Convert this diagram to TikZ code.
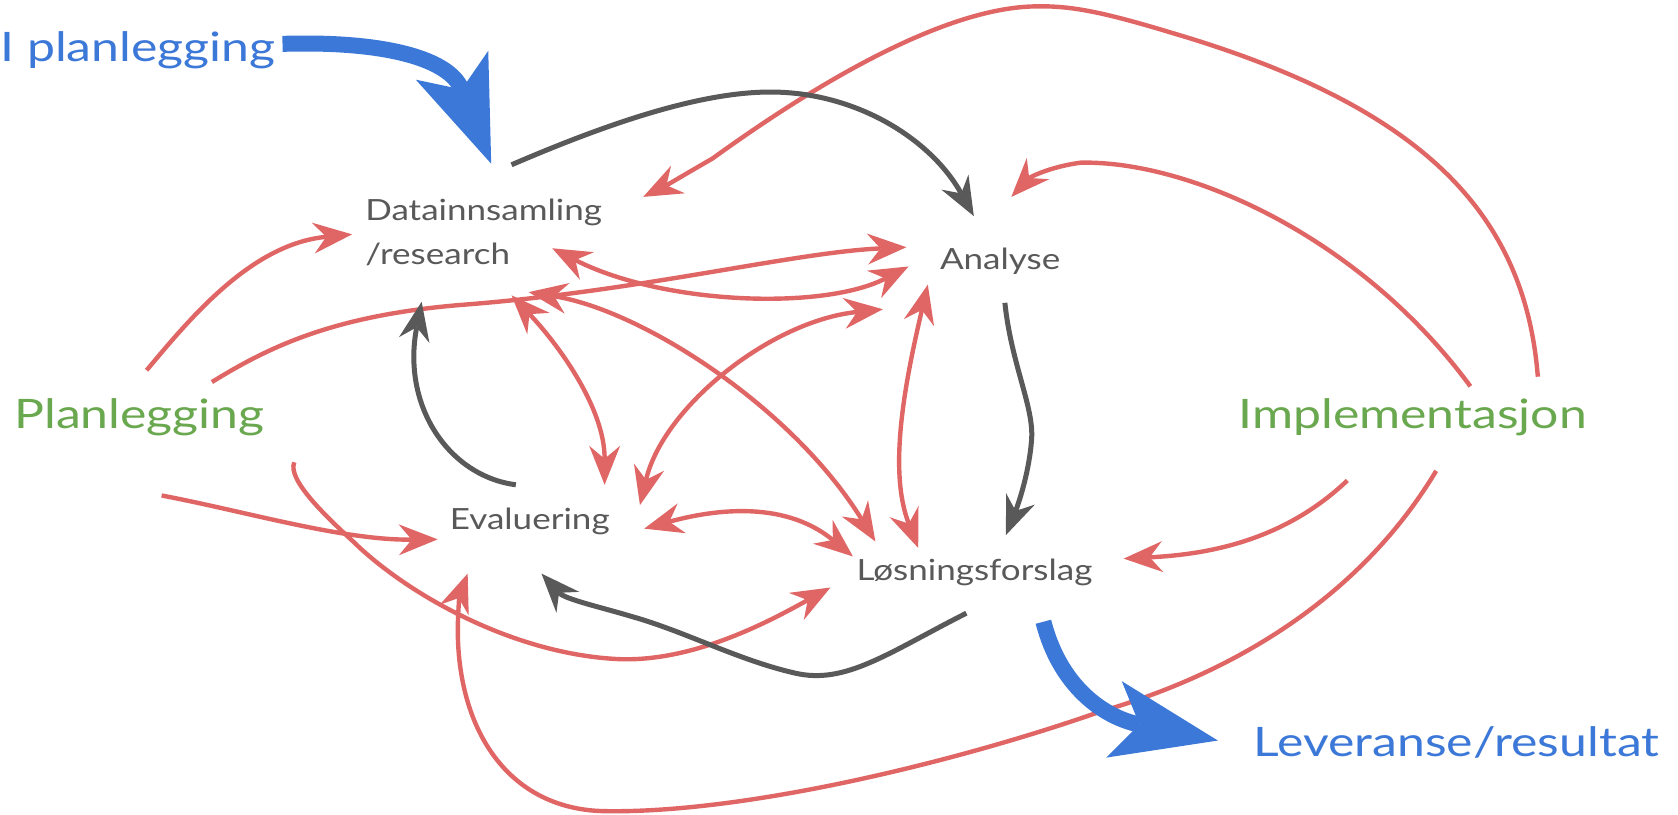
\documentclass[tikz,border=0pt]{standalone}
\usepackage{fontspec}
\newfontfamily\lblfont[FakeStretch=1.2]{Lato}
\newfontfamily\bigfont[FakeStretch=1.23]{Lato}
\usetikzlibrary{arrows.meta}
\definecolor{cRed}{HTML}{E06666}
\definecolor{cGray}{HTML}{595959}
\definecolor{cBlue}{HTML}{3C78D8}
\definecolor{cGreen}{HTML}{6AA84F}

\begin{document}
\begin{tikzpicture}[x=0.53508pt, y=-0.53508pt,
  hd/.tip={Stealth[length=19.5pt,width=15.5pt,inset=6.5pt,line width=0pt]},
  bighd/.tip={Stealth[length=53pt,width=39pt,inset=13pt,line width=0pt]},
  rline/.style={draw=cRed, line width=2.2pt, -hd},
  rboth/.style={draw=cRed, line width=2.2pt, hd-hd},
  gline/.style={draw=cGray, line width=2.5pt, -hd},
  bline/.style={draw=cBlue, line width=8pt, -bighd},
  lbl/.style={font=\lblfont\fontsize{14.6}{17}\selectfont, text=cGray, inner sep=0pt, anchor=base west},
  phase/.style={font=\bigfont\fontsize{20.3}{24}\selectfont, text=cGreen, inner sep=0pt, anchor=base west},
  outcome/.style={phase, text=cBlue}]

\fill[white] (0,0) rectangle (1568,761);
\useasboundingbox (0,0) rectangle (1568,761);

% ---- labels ----
\node[outcome] (ipl) at (0,57.6) {I planlegging};
\node[lbl] (dat) at (341,205.6) {Datainnsamling};
\node[lbl] (datb) at (341,247.6) {/research};
\node[lbl] (ana) at (878,251.7) {Analyse};
\node[phase] (pla) at (13,400) {Planlegging};
\node[phase] (imp) at (1157,400) {Implementasjon};
\node[lbl] (eva) at (420,494.6) {Evaluering};
\node[lbl] (los) at (800,542) {Løsningsforslag};
\node[outcome] (lev) at (1171,707) {Leveranse/resultat};

% ---- connector ends ----
\coordinate (ipl-e) at (264,41);
\coordinate (dat-b) at (459,153);
\coordinate (los-b) at (975,581);
\coordinate (lev-a) at (1138,692);

\coordinate (dat-g) at (478,154);
\coordinate (ana-g) at (910,202);
\coordinate (ana-s) at (939,283);
\coordinate (los-n) at (940,500);
\coordinate (eva-n) at (482,453);
\coordinate (dat-s) at (394,282);
\coordinate (los-s) at (903,573);
\coordinate (eva-e) at (506,536);

\coordinate (pla-1) at (137,346);
\coordinate (dat-w) at (329,219);
\coordinate (pla-2) at (198,357);
\coordinate (ana-w1) at (847,231);
\coordinate (dat-e) at (516,232);
\coordinate (ana-w2) at (849,249);
\coordinate (imp-1) at (1374,361);
\coordinate (ana-ne) at (945,184);
\coordinate (imp-2) at (1437,352);
\coordinate (dat-ne) at (601,184);
\coordinate (imp-3) at (1259,449);
\coordinate (los-e) at (1050,522);
\coordinate (imp-4) at (1342,440);
\coordinate (eva-s) at (437,536);
\coordinate (pla-3) at (151,463);
\coordinate (eva-w) at (409,504);
\coordinate (pla-4) at (275,432);
\coordinate (los-w) at (776,549);
\coordinate (eva-e2) at (602,494);
\coordinate (los-nw) at (797,520);
\coordinate (dat-se) at (494,273);
\coordinate (los-n1) at (818,506);
\coordinate (dat-s2) at (478,276);
\coordinate (eva-n2) at (565,453);
\coordinate (eva-ne) at (598,472);
\coordinate (ana-sw) at (825,289);
\coordinate (ana-s2) at (867,266);
\coordinate (los-n2) at (858,512);

% ---- red links ----
\draw[rline] (pla-1) .. controls (178,297) and (235,228) .. (dat-w);
\draw[rline] (pla-2) .. controls (250,325) and (310,295) .. (430,285)
                     .. controls (600,272) and (740,236) .. (ana-w1);
\draw[rboth] (dat-e) .. controls (620,285) and (770,290) .. (ana-w2);
\draw[rline] (imp-1) .. controls (1270,220) and (1110,150) .. (1010,152)
                     .. controls (980,156) and (962,166) .. (ana-ne);
\draw[rline] (imp-2) .. controls (1425,200) and (1330,100) .. (1096,31)
                     .. controls (1030,11) and (1000,5) .. (966,6)
                     .. controls (880,8) and (760,80) .. (666,148)
                     .. controls (640,163) and (625,172) .. (dat-ne);
\draw[rline] (imp-3) .. controls (1200,505) and (1130,518) .. (los-e);
\draw[rline] (imp-4) .. controls (1270,560) and (1150,630) .. (1028,665)
                     .. controls (900,710) and (700,760) .. (566,758)
                     .. controls (480,757) and (432,690) .. (428,600)
                     .. controls (427,575) and (430,555) .. (eva-s);
\draw[rline] (pla-3) .. controls (230,478) and (320,505) .. (eva-w);
\draw[rline] (pla-4) .. controls (268,448) and (305,483) .. (330,506)
                     .. controls (380,555) and (480,612) .. (580,616)
                     .. controls (650,618) and (720,580) .. (los-w);
\draw[rboth] (eva-e2) .. controls (660,478) and (730,465) .. (los-nw);
\draw[rboth] (dat-se) .. controls (600,290) and (740,380) .. (los-n1);
\draw[rboth] (dat-s2) .. controls (520,320) and (565,380) .. (eva-n2);
\draw[rboth] (eva-ne) .. controls (620,380) and (720,300) .. (ana-sw);
\draw[rboth] (ana-s2) .. controls (845,360) and (830,440) .. (los-n2);

% ---- gray links ----
\draw[gline] (dat-g) .. controls (580,110) and (660,86) .. (720,86)
                     .. controls (800,86) and (870,130) .. (ana-g);
\draw[gline] (ana-s) .. controls (945,340) and (966,380) .. (964,410)
                     .. controls (962,440) and (952,470) .. (los-n);
\draw[gline] (eva-n) .. controls (420,445) and (375,380) .. (dat-s);
\draw[gline] (los-s) .. controls (830,610) and (790,640) .. (743,629)
                     .. controls (690,617) and (640,590) .. (590,576)
                     .. controls (560,567) and (528,560) .. (eva-e);

% ---- blue flow arrows ----
\draw[bline] (ipl-e) .. controls (360,38) and (420,55) .. (dat-b);
\draw[bline] (los-b) .. controls (990,640) and (1030,670) .. (lev-a);
\end{tikzpicture}
\end{document}
